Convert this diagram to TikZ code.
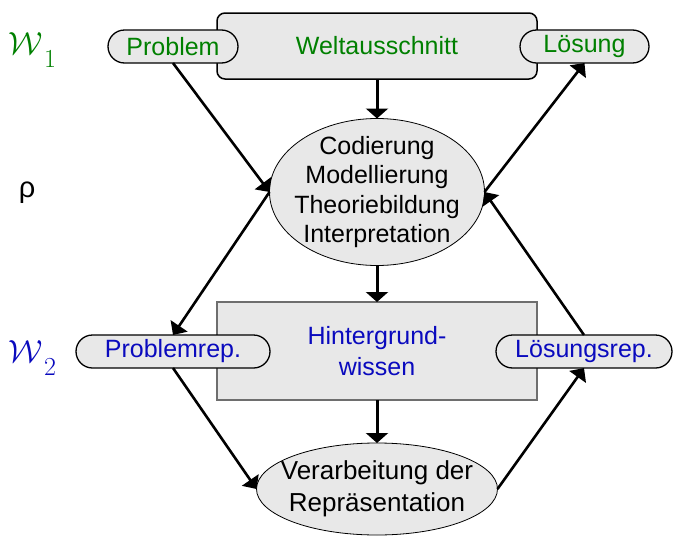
\RequirePackage{fix-cm}
\documentclass[tikz,border=0pt]{standalone}
\usepackage[no-math]{fontspec}
\setmainfont{Liberation Sans}
\usetikzlibrary{shapes.geometric,shapes.misc,arrows.meta}
\definecolor{worldgreen}{RGB}{0,128,0}
\definecolor{reprblue}{RGB}{10,10,190}
\definecolor{panelgray}{RGB}{232,232,232}
\definecolor{edgegray}{RGB}{110,110,110}
% calligraphic W with a large, low index
\newcommand{\worldsym}[1]{$\mathcal{W}$\kern1pt\raisebox{-13pt}{\fontsize{26}{26}\selectfont$#1$}}
\begin{document}
\begin{tikzpicture}[x=1pt,y=-1pt,
  every node/.style={font=\fontsize{25}{29.5}\selectfont, inner sep=0pt, outer sep=0pt},
  worldbox/.style={draw=black, line width=1.5pt, fill=panelgray, rounded corners=8pt,
    minimum width=320pt, minimum height=66pt, text=worldgreen},
  knowbox/.style={draw=edgegray, line width=1.2pt, fill=panelgray,
    minimum width=320pt, minimum height=98pt, text=reprblue, align=center,
    font=\fontsize{25}{31}\selectfont},
  pill/.style={rounded rectangle, draw=black, line width=1.3pt, fill=panelgray,
    minimum height=33pt},
  proc/.style={ellipse, draw=black, line width=0.8pt, fill=panelgray},
  proctext/.style={align=center, text=black},
  worldlabel/.style={font=\fontsize{32}{32}\selectfont, anchor=base west},
  flow/.style={line width=3pt, -{Triangle[length=10pt,width=22pt]}},
  diag/.style={line width=2.6pt, -{Triangle[length=11pt,width=20pt]}},
]
\useasboundingbox (0,0) rectangle (673,536);

% level labels
\node[worldlabel, text=worldgreen] (w1) at (9,54) {\worldsym{1}};
\node[font=\fontsize{29}{29}\selectfont] (rho) at (27,193) {ρ};
\node[worldlabel, text=reprblue] (w2) at (9,362) {\worldsym{2}};

% boxes
\node[worldbox] (welt) at (377,46) {Weltausschnitt};
\node[knowbox] (hint) at (377,351) {Hintergrund-\\wissen};

% ellipses
\node[proc, minimum width=215pt, minimum height=147pt] (cod) at (377,192) {};
\node[proctext] (codtext) at (cod.center) {Codierung\\Modellierung\\Theoriebildung\\Interpretation};
\node[proc, minimum width=241pt, minimum height=92pt] (verar) at (377,489) {};
\node[proctext, font=\fontsize{26}{32}\selectfont] (verartext) at (verar.center) {Verarbeitung der\\Repräsentation};

% pills
\node[pill, minimum width=130pt, text=worldgreen] (prob) at (173,46.5) {Problem};
\node[pill, minimum width=129pt, text=worldgreen] (loes) at (584.5,46.5) {Lösung};
\node[pill, minimum width=194pt, text=reprblue] (probrep) at (173,351.5) {Problemrep.};
\node[pill, minimum width=176pt, text=reprblue] (loesrep) at (584,351.5) {Lösungsrep.};

% vertical flow
\draw[flow] (welt.south) -- (cod.north);
\draw[flow] (cod.south) -- (hint.north);
\draw[flow] (hint.south) -- (verar.north);

% diagonal flow
\draw[diag] (prob.south) -- (cod.west);
\draw[diag] (cod.west) -- (probrep.north);
\draw[diag] (probrep.south) -- (verar.west);
\draw[diag] (verar.east) -- (loesrep.south);
\draw[diag] (loesrep.north) -- (cod.east);
\draw[diag] (cod.east) -- (loes.south);
\end{tikzpicture}
\end{document}
